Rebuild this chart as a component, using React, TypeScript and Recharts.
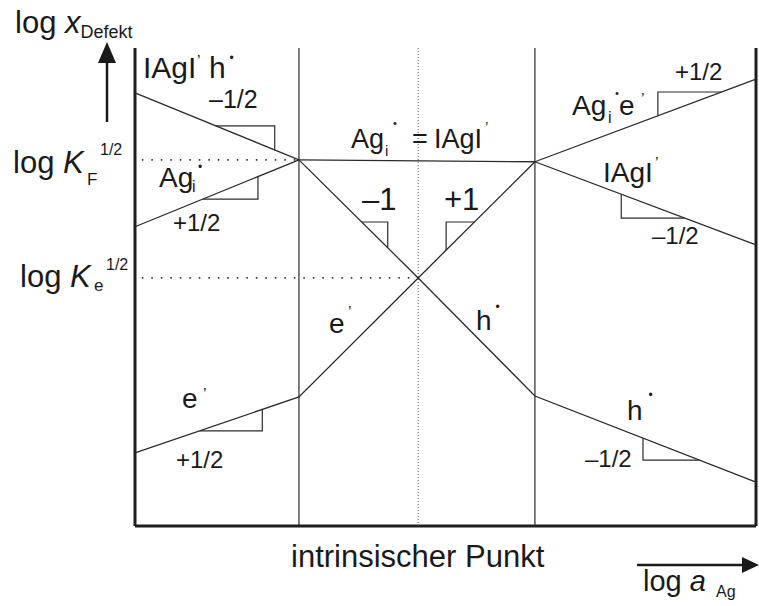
import React from 'react'
import { LineChart, Line, XAxis, YAxis, ReferenceLine } from 'recharts'

// Brouwer diagram for AgI: log x(defect) vs log a(Ag), arbitrary units 0..100 on both axes

// region boundaries and the intrinsic point on the log a_Ag axis
const xBounds = [26.4, 64.4]
const xIntrinsic = 45.6
// log K_F^1/2 and log K_e^1/2 levels
const logKF = 76.6
const logKe = 51.9

// defect branches as [log a_Ag, log x]
const iodVacHoleLeft = [[0, 90.6], [26.4, 76.6]]
const agInterstLeft = [[0, 62.6], [26.4, 76.6]]
const plateau = [[26.4, 76.6], [64.4, 76.2]]
const electrons = [[0, 15.3], [26.4, 27.0], [45.6, 51.9], [64.4, 76.2]]
const holes = [[26.4, 76.6], [45.6, 51.9], [64.4, 27.2], [100, 9.2]]
const agInterstRight = [[64.4, 76.2], [100, 93.5]]
const iodVacRight = [[64.4, 76.2], [100, 58.8]]

// dotted guide levels
const kfLevel = [[1.1, logKF], [xBounds[0], logKF]]
const keLevel = [[1.1, logKe], [xIntrinsic, logKe]]

// slope triangles (two legs each, the hypotenuse is the branch itself)
const slopeTriangles = [
  [[13.0, 83.7], [22.5, 83.7], [22.5, 78.7]],
  [[10.9, 68.4], [19.8, 68.4], [19.8, 73.1]],
  [[36.5, 63.6], [40.7, 63.6], [40.7, 58.2]],
  [[50.1, 57.7], [50.1, 63.6], [54.7, 63.6]],
  [[84.2, 85.8], [84.2, 90.8], [94.4, 90.8]],
  [[78.3, 69.4], [78.3, 64.4], [88.5, 64.4]],
  [[10.4, 19.9], [20.5, 19.9], [20.5, 24.4]],
  [[81.8, 18.4], [81.8, 13.8], [90.9, 13.8]],
]

const branches = [iodVacHoleLeft, agInterstLeft, plateau, electrons, holes, agInterstRight, iodVacRight]

const LINE = '#2b2b2b'
const FRAME = '#1e1e1e'
const INK = '#1a1a1a'
const FONT = "'Liberation Sans', Arial, Helvetica, sans-serif"

const toPts = (a: number[][]) => a.map(([x, y]) => ({ x, y }))

type Part = { t: string; x?: number; rise?: number; size?: number; italic?: boolean }

// text with sub/superscripts; rise is measured upwards from the baseline
function Rich({ x, y, size, parts }: { x: number; y: number; size: number; parts: Part[] }) {
  let cur = 0
  return (
    <text x={x} y={y} fontSize={size} fill={INK} fontFamily={FONT}>
      {parts.map((p, i) => {
        const r = p.rise ?? 0
        const dy = cur - r
        cur = r
        return (
          <tspan key={i} x={p.x} dy={dy || undefined} fontSize={p.size} fontStyle={p.italic ? 'italic' : undefined}>
            {p.t}
          </tspan>
        )
      })}
    </text>
  )
}

const P = '\u2019'
const DOT = '\u2022'

function Labels() {
  return (
    <svg width={759} height={606} style={{ position: 'absolute', left: 0, top: 0, pointerEvents: 'none' }}>
      {/* axis titles and arrows */}
      <Rich x={15} y={33} size={31} parts={[{ t: 'log ' }, { t: 'x', italic: true }, { t: 'Defekt', size: 18, rise: -5 }]} />
      <line x1={107} y1={60} x2={107} y2={122} stroke={INK} strokeWidth={2.5} />
      <polygon points="107,42 98,63 116,63" fill={INK} />
      <Rich x={643} y={591} size={29} parts={[{ t: 'log ' }, { t: 'a', italic: true }, { t: 'Ag', size: 16, rise: -6, x: 716 }]} />
      <line x1={637} y1={565} x2={745} y2={565} stroke={INK} strokeWidth={2.5} />
      <polygon points="759,565 742,557 742,573" fill={INK} />
      <Rich x={291} y={567} size={31} parts={[{ t: 'intrinsischer Punkt' }]} />

      {/* level labels */}
      <Rich x={13} y={173} size={31} parts={[{ t: 'log ' }, { t: 'K', italic: true }, { t: 'F', size: 17, rise: -12, x: 87 }, { t: '1/2', size: 16, rise: 18, x: 100 }]} />
      <Rich x={20} y={287} size={31} parts={[{ t: 'log ' }, { t: 'K', italic: true }, { t: 'e', size: 17, rise: -4, x: 94 }, { t: '1/2', size: 16, rise: 17, x: 106 }]} />

      {/* left region */}
      <Rich x={143} y={78} size={30} parts={[{ t: 'IAgI' }, { t: P, size: 16, rise: 11, x: 197 }, { t: 'h', x: 209 }, { t: DOT, size: 12, rise: 16, x: 229.5 }]} />
      <Rich x={209} y={108} size={25} parts={[{ t: '\u20131/2' }]} />
      <Rich x={159} y={187} size={28} parts={[{ t: 'Ag' }, { t: 'i', size: 16, rise: -5, x: 192 }, { t: DOT, size: 12, rise: 16, x: 198 }]} />
      <Rich x={173} y={231} size={24} parts={[{ t: '+1/2' }]} />
      <Rich x={182} y={408} size={28} parts={[{ t: 'e' }, { t: P, size: 16, rise: 8, x: 203 }]} />
      <Rich x={176} y={468} size={24} parts={[{ t: '+1/2' }]} />

      {/* middle region */}
      <Rich x={351} y={148} size={27} parts={[{ t: 'Ag' }, { t: 'i', size: 15, rise: -8, x: 385 }, { t: DOT, size: 11, rise: 21, x: 393 }, { t: '=', x: 412 }, { t: 'IAgI', x: 434 }, { t: P, size: 15, rise: 16, x: 485 }]} />
      <Rich x={362} y={210} size={31} parts={[{ t: '\u20131' }]} />
      <Rich x={444} y={210} size={31} parts={[{ t: '+1' }]} />
      <Rich x={329} y={333} size={28} parts={[{ t: 'e' }, { t: P, size: 16, rise: 15, x: 348 }]} />
      <Rich x={476} y={330} size={28} parts={[{ t: 'h' }, { t: DOT, size: 12, rise: 19, x: 495.5 }]} />

      {/* right region */}
      <Rich x={675} y={80} size={24} parts={[{ t: '+1/2' }]} />
      <Rich x={572} y={115} size={28} parts={[{ t: 'Ag' }, { t: 'i', size: 16, rise: -8, x: 608 }, { t: DOT, size: 11, rise: 18, x: 615 }, { t: 'e', x: 619 }, { t: P, size: 16, rise: 10, x: 641 }]} />
      <Rich x={603} y={182} size={28} parts={[{ t: 'IAgI' }, { t: P, size: 16, rise: 13, x: 655 }]} />
      <Rich x={652} y={244} size={24} parts={[{ t: '\u20131/2' }]} />
      <Rich x={627} y={420} size={28} parts={[{ t: 'h' }, { t: DOT, size: 12, rise: 21, x: 648.5 }]} />
      <Rich x={585} y={467} size={24} parts={[{ t: '\u20131/2' }]} />
    </svg>
  )
}

export default function App() {
  return (
    <div style={{ position: 'absolute', left: 0, top: 0, width: 759, height: 606, background: '#fff' }}>
      <LineChart width={759} height={606} margin={{ top: 48, right: 3, bottom: 80, left: 135 }}>
        <XAxis type="number" dataKey="x" domain={[0, 100]} hide />
        <YAxis type="number" domain={[0, 100]} hide />
        {/* frame: left axis, bottom axis, right border */}
        <ReferenceLine x={0} stroke={FRAME} strokeWidth={3} />
        <ReferenceLine y={0} stroke={FRAME} strokeWidth={3} />
        <ReferenceLine x={100} stroke={FRAME} strokeWidth={3} />
        {xBounds.map(b => (
          <ReferenceLine key={`bound${b}`} x={b} stroke={LINE} strokeWidth={1.2} />
        ))}
        <ReferenceLine x={xIntrinsic} stroke="#555" strokeWidth={1} strokeDasharray="1 2" />
        {[kfLevel, keLevel].map((lv, i) => (
          <Line key={`lvl${i}`} data={toPts(lv)} dataKey="y" type="linear" stroke="#333" strokeWidth={1.6}
            strokeDasharray="1.5 8" dot={false} activeDot={false} isAnimationActive={false} />
        ))}
        {branches.map((b, i) => (
          <Line key={`br${i}`} data={toPts(b)} dataKey="y" type="linear" stroke={LINE} strokeWidth={1.3}
            dot={false} activeDot={false} isAnimationActive={false} />
        ))}
        {slopeTriangles.map((t, i) => (
          <Line key={`tri${i}`} data={toPts(t)} dataKey="y" type="linear" stroke={LINE} strokeWidth={1.2}
            dot={false} activeDot={false} isAnimationActive={false} />
        ))}
      </LineChart>
      <Labels />
    </div>
  )
}
